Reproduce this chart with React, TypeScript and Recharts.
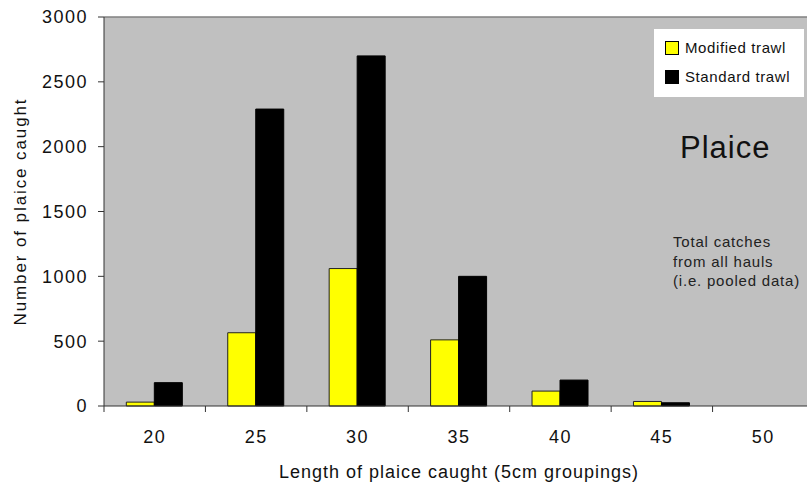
import { BarChart, Bar, XAxis, YAxis, CartesianGrid, ReferenceLine } from "recharts";

const lengths = ["20", "25", "30", "35", "40", "45", "50"];
const modifiedTrawl = [30, 565, 1060, 510, 115, 35, 0];
const standardTrawl = [180, 2290, 2700, 1000, 200, 25, 0];
const yTicks = [0, 500, 1000, 1500, 2000, 2500, 3000];

const data = lengths.map((len, i) => ({
  len,
  modified: modifiedTrawl[i],
  standard: standardTrawl[i],
}));

const W = 830;
const H = 484;
const LEFT = 104;
const RIGHT = 16;
const BAND = (W - LEFT - RIGHT) / lengths.length;
const FONT = "'Liberation Sans', Arial, sans-serif";

const XTick = (props: any) => {
  const { x, y, payload, index } = props;
  const half = BAND / 2;
  return (
    <g>
      <line x1={x - half} y1={y - 8} x2={x - half} y2={y - 2} stroke="#333" />
      {index === lengths.length - 1 && (
        <line x1={x + half} y1={y - 8} x2={x + half} y2={y - 2} stroke="#333" />
      )}
      <text x={x} y={y + 29} textAnchor="middle" fontSize={18} letterSpacing={1.5} fill="#111" fontFamily={FONT}>
        {payload.value}
      </text>
    </g>
  );
};

const legendItems = [
  { name: "Modified trawl", color: "#ffff00" },
  { name: "Standard trawl", color: "#000" },
];

export default function App() {
  return (
    <div style={{ position: "fixed", left: 0, top: 0, width: 807, height: 484, overflow: "hidden", background: "#fff" }}>
      <BarChart
        width={W}
        height={H}
        data={data}
        margin={{ top: 17, right: RIGHT, left: 0, bottom: 0 }}
        barCategoryGap="22%"
        barGap={0}
      >
        <CartesianGrid fill="#c0c0c0" horizontal={false} vertical={false} />
        <ReferenceLine y={3000} stroke="#808080" strokeWidth={1.5} />
        <XAxis
          dataKey="len"
          height={78}
          stroke="#333"
          tickLine={false}
          tick={<XTick />}
          interval={0}
          label={{
            value: "Length of plaice caught (5cm groupings)",
            position: "insideBottom",
            offset: 6,
            fontSize: 18,
            letterSpacing: 1,
            fill: "#111",
            fontFamily: FONT,
          }}
        />
        <YAxis
          width={LEFT}
          domain={[0, 3000]}
          ticks={yTicks}
          interval={0}
          stroke="#333"
          tickSize={6}
          tickMargin={10}
          tickLine={{ stroke: "#333" }}
          tick={{ fontSize: 18, fill: "#111", fontFamily: FONT, letterSpacing: 1.5 }}
          label={{
            value: "Number of plaice caught",
            angle: -90,
            position: "insideLeft",
            offset: 20,
            style: { textAnchor: "middle" },
            fontSize: 17,
            letterSpacing: 1.9,
            fill: "#111",
            fontFamily: FONT,
          }}
        />
        <Bar dataKey="modified" name="Modified trawl" fill="#ffff00" stroke="#222" strokeWidth={1} isAnimationActive={false} />
        <Bar dataKey="standard" name="Standard trawl" fill="#000" stroke="#000" strokeWidth={1} isAnimationActive={false} />
      </BarChart>
      <div
        style={{
          position: "absolute",
          left: 654,
          top: 29,
          background: "#fff",
          width: 150,
          height: 68,
          fontFamily: FONT,
          fontSize: 15,
          letterSpacing: 0.6,
          color: "#111",
          boxSizing: "border-box",
          paddingTop: 4,
          paddingLeft: 11,
        }}
      >
        {legendItems.map((it) => (
          <div key={it.name} style={{ display: "flex", alignItems: "center", height: 29 }}>
            <span
              style={{
                display: "inline-block",
                width: 12,
                height: 12,
                background: it.color,
                border: "1px solid #000",
                marginRight: 6,
              }}
            />
            {it.name}
          </div>
        ))}
      </div>
      <div style={{ position: "absolute", left: 680, top: 130, fontFamily: FONT, fontSize: 31, letterSpacing: 1, color: "#111" }}>
        Plaice
      </div>
      <div
        style={{
          position: "absolute",
          left: 673,
          top: 232,
          fontFamily: FONT,
          fontSize: 15,
          letterSpacing: 0.8,
          lineHeight: "19.5px",
          color: "#222",
        }}
      >
        Total catches
        <br />
        from all hauls
        <br />
        (i.e. pooled data)
      </div>
    </div>
  );
}
